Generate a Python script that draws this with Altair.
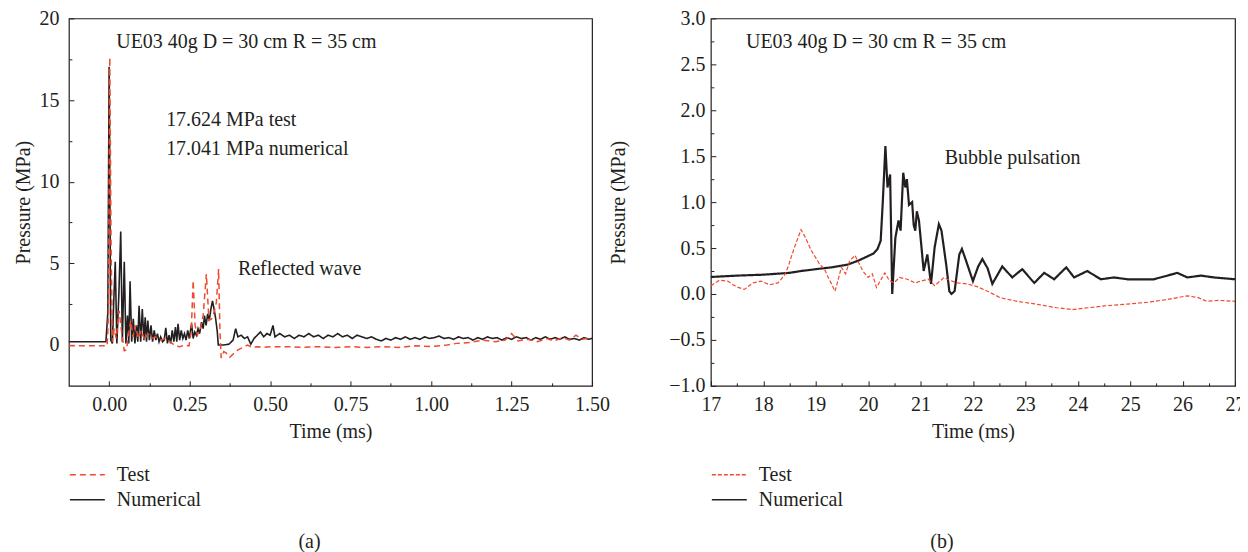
import altair as alt
import pandas as pd

FONT = "Liberation Serif"
INK = "#231F20"
RED = "#F04A2F"

series = ["Test", "Numerical"]
series_colors = [RED, INK]

# ---------------- panel (a): 0 - 1.5 ms ----------------
a_numerical = [
    (-0.125, 0.20), (-0.010, 0.20), (-0.004, 2.0), (0.000, 17.04), (0.005, 0.3),
    (0.010, 0.1), (0.014, 2.5), (0.019, 5.1), (0.024, 0.1), (0.030, 3.0),
    (0.036, 6.95), (0.041, 0.2), (0.047, 5.1), (0.052, 0.1), (0.057, 1.8),
    (0.061, 0.1), (0.065, 3.9), (0.070, 0.2), (0.075, 1.6), (0.080, 0.1),
    (0.085, 1.2), (0.089, 0.2), (0.093, 2.4), (0.098, 0.2), (0.103, 2.2),
    (0.108, 0.3), (0.112, 1.7), (0.116, 0.2), (0.120, 1.5), (0.125, 0.3),
    (0.130, 1.2), (0.135, 0.2), (0.140, 0.9), (0.145, 0.3), (0.150, 0.7),
    (0.155, 0.2), (0.160, 0.5), (0.166, 0.2), (0.171, 0.3), (0.176, 1.05),
    (0.181, 0.1), (0.186, 0.6), (0.191, 0.1), (0.196, 0.9), (0.201, 0.2),
    (0.206, 1.1), (0.210, 0.2), (0.214, 1.3), (0.219, 0.3), (0.224, 0.9),
    (0.229, 0.4), (0.234, 0.7), (0.239, 0.3), (0.244, 0.9), (0.249, 0.4),
    (0.256, 1.3), (0.261, 0.4), (0.266, 0.8), (0.271, 0.6), (0.276, 1.0),
    (0.281, 0.7), (0.287, 1.4), (0.292, 1.0), (0.296, 1.8), (0.301, 1.2),
    (0.306, 1.9), (0.311, 1.5), (0.316, 2.2), (0.321, 2.7), (0.326, 2.2),
    (0.331, 1.6), (0.336, 0.8), (0.339, 0.0), (0.355, 0.0), (0.372, 0.05),
    (0.385, 0.3), (0.393, 1.0), (0.400, 0.5), (0.410, 0.6), (0.420, 0.4),
    (0.430, 0.5), (0.440, 0.05), (0.450, 0.4), (0.460, 0.6), (0.470, 0.8),
    (0.480, 0.5), (0.490, 0.7), (0.500, 0.6), (0.509, 1.2), (0.515, 0.5),
    (0.530, 0.7), (0.545, 0.5), (0.560, 0.6), (0.575, 0.4), (0.590, 0.6),
    (0.605, 0.5), (0.620, 0.7), (0.635, 0.5), (0.650, 0.6), (0.665, 0.4),
    (0.680, 0.6), (0.695, 0.5), (0.710, 0.7), (0.725, 0.5), (0.740, 0.6),
    (0.755, 0.4), (0.770, 0.6), (0.785, 0.5), (0.800, 0.4), (0.815, 0.5),
    (0.830, 0.35), (0.845, 0.25), (0.860, 0.4), (0.875, 0.3), (0.890, 0.45),
    (0.905, 0.35), (0.920, 0.5), (0.935, 0.35), (0.950, 0.45), (0.965, 0.35),
    (0.980, 0.5), (0.995, 0.4), (1.010, 0.45), (1.025, 0.55), (1.040, 0.4),
    (1.055, 0.45), (1.070, 0.35), (1.085, 0.5), (1.100, 0.4), (1.115, 0.45),
    (1.130, 0.3), (1.145, 0.45), (1.160, 0.35), (1.175, 0.5), (1.190, 0.4),
    (1.205, 0.45), (1.220, 0.3), (1.235, 0.45), (1.250, 0.35), (1.265, 0.5),
    (1.280, 0.4), (1.295, 0.45), (1.310, 0.3), (1.325, 0.45), (1.340, 0.35),
    (1.355, 0.5), (1.370, 0.35), (1.385, 0.45), (1.400, 0.35), (1.415, 0.5),
    (1.430, 0.35), (1.445, 0.4), (1.460, 0.3), (1.475, 0.45), (1.490, 0.35),
    (1.500, 0.4),
]
a_test = [
    (-0.125, -0.05), (-0.006, -0.05), (-0.002, 2.0), (0.002, 17.62), (0.006, 6.0),
    (0.010, 0.2), (0.016, 1.0), (0.022, 0.4), (0.031, 2.1), (0.040, 0.6),
    (0.047, -0.35), (0.054, -0.3), (0.060, 0.6), (0.067, 1.5), (0.074, 0.5),
    (0.082, 1.2), (0.090, 0.4), (0.100, 0.9), (0.110, 0.3), (0.120, 0.7),
    (0.132, 0.4), (0.145, 0.5), (0.160, 0.3), (0.175, 0.4), (0.190, 0.2),
    (0.205, -0.05), (0.220, -0.1), (0.235, 0.0), (0.248, -0.05), (0.255, 0.8),
    (0.261, 3.95), (0.267, 1.2), (0.274, 0.6), (0.283, 1.0), (0.292, 1.8),
    (0.302, 4.35), (0.310, 1.5), (0.318, 1.6), (0.326, 2.0), (0.333, 2.6),
    (0.340, 4.65), (0.344, 1.0), (0.348, -0.8), (0.356, -0.4), (0.364, -0.5),
    (0.375, -0.75), (0.388, -0.5), (0.400, -0.3), (0.415, -0.15), (0.430, 0.0),
    (0.445, -0.15), (0.460, -0.1), (0.480, -0.15), (0.500, -0.1), (0.550, -0.1),
    (0.600, -0.15), (0.650, -0.1), (0.700, -0.15), (0.750, -0.1), (0.800, -0.15),
    (0.850, -0.1), (0.900, -0.15), (0.950, -0.05), (1.000, -0.1), (1.050, 0.0),
    (1.080, 0.1), (1.120, 0.15), (1.160, 0.3), (1.200, 0.2), (1.230, 0.3),
    (1.250, 0.7), (1.270, 0.25), (1.300, 0.35), (1.330, 0.2), (1.360, 0.4),
    (1.380, 0.25), (1.410, 0.45), (1.430, 0.3), (1.450, 0.6), (1.470, 0.35),
    (1.500, 0.45),
]
a_x_major = [0.0, 0.25, 0.5, 0.75, 1.0, 1.25, 1.5]
a_x_minor = [0.125, 0.375, 0.625, 0.875, 1.125, 1.375]
a_y_major = [0, 5, 10, 15, 20]
a_y_minor = [2.5, 7.5, 12.5, 17.5]
a_notes = ["UE03 40g D = 30 cm R = 35 cm", "17.624 MPa test",
           "17.041 MPa numerical", "Reflected wave"]
a_note_t = [0.022, 0.177, 0.177, 0.40]
a_note_p = [18.55, 13.8, 12.0, 4.65]

# ---------------- panel (b): 17 - 27 ms ----------------
b_numerical = [
    (17.0, 0.185), (17.5, 0.20), (18.0, 0.21), (18.5, 0.23), (18.72, 0.25),
    (19.0, 0.27), (19.3, 0.29), (19.61, 0.32), (19.8, 0.36), (19.99, 0.41),
    (20.1, 0.44), (20.18, 0.49), (20.24, 0.58), (20.28, 1.0), (20.33, 1.61),
    (20.37, 1.16), (20.42, 1.30), (20.46, 0.0), (20.52, 0.61), (20.58, 0.8),
    (20.62, 0.69), (20.67, 1.32), (20.71, 1.16), (20.74, 1.25), (20.78, 0.97),
    (20.84, 1.0), (20.87, 0.75), (20.90, 0.69), (20.93, 0.9), (20.97, 0.8),
    (21.02, 0.5), (21.06, 0.25), (21.13, 0.43), (21.20, 0.11), (21.27, 0.51),
    (21.35, 0.76), (21.40, 0.69), (21.49, 0.32), (21.55, 0.03), (21.59, 0.0),
    (21.65, 0.03), (21.74, 0.43), (21.79, 0.49), (21.87, 0.36), (22.0, 0.14),
    (22.1, 0.3), (22.18, 0.38), (22.28, 0.28), (22.37, 0.11), (22.56, 0.30),
    (22.75, 0.18), (22.94, 0.27), (23.17, 0.12), (23.36, 0.23), (23.55, 0.16),
    (23.78, 0.29), (23.93, 0.18), (24.18, 0.25), (24.44, 0.16), (24.69, 0.18),
    (24.95, 0.16), (25.2, 0.16), (25.45, 0.16), (25.71, 0.20), (25.9, 0.23),
    (26.09, 0.18), (26.35, 0.20), (26.6, 0.18), (27.0, 0.16),
]
b_test = [
    (17.0, 0.09), (17.16, 0.15), (17.32, 0.14), (17.48, 0.08), (17.64, 0.05),
    (17.8, 0.12), (17.96, 0.14), (18.12, 0.10), (18.28, 0.12), (18.4, 0.20),
    (18.47, 0.29), (18.59, 0.50), (18.72, 0.70), (18.79, 0.63), (18.92, 0.47),
    (19.08, 0.32), (19.16, 0.28), (19.24, 0.18), (19.37, 0.03), (19.49, 0.29),
    (19.57, 0.22), (19.65, 0.36), (19.75, 0.42), (19.9, 0.25), (20.0, 0.18),
    (20.08, 0.22), (20.16, 0.07), (20.32, 0.23), (20.4, 0.15), (20.49, 0.12),
    (20.6, 0.18), (20.75, 0.16), (20.9, 0.12), (21.0, 0.14), (21.15, 0.16),
    (21.27, 0.09), (21.45, 0.18), (21.51, 0.16), (21.7, 0.12), (21.89, 0.11),
    (22.08, 0.08), (22.28, 0.03), (22.52, -0.04), (22.84, -0.08), (23.2, -0.11),
    (23.6, -0.15), (23.9, -0.17), (24.2, -0.15), (24.5, -0.13), (24.95, -0.11),
    (25.33, -0.09), (25.71, -0.06), (26.09, -0.02), (26.3, -0.04), (26.46, -0.08),
    (26.7, -0.07), (27.0, -0.08),
]
b_x_major = [17, 18, 19, 20, 21, 22, 23, 24, 25, 26, 27]
b_x_minor = [17.5, 18.5, 19.5, 20.5, 21.5, 22.5, 23.5, 24.5, 25.5, 26.5]
b_y_major = [-1.0, -0.5, 0.0, 0.5, 1.0, 1.5, 2.0, 2.5, 3.0]
b_y_minor = [-0.75, -0.25, 0.25, 0.75, 1.25, 1.75, 2.25, 2.75]
b_notes = ["UE03 40g D = 30 cm R = 35 cm", "Bubble pulsation"]
b_note_t = [17.67, 21.46]
b_note_p = [2.74, 1.48]


def frame(pairs_by_series):
    rows = []
    for name, pairs in pairs_by_series:
        for t, p in pairs:
            rows.append({"t": t, "p": p, "series": name})
    return pd.DataFrame(rows)


def major_axis(values, fmt, title, orient, lab_pad, title_pad):
    return alt.Axis(values=values, format=fmt, title=title, orient=orient,
                    offset=-5, tickSize=5, labelPadding=lab_pad, titlePadding=title_pad,
                    labelFlush=False, labelOverlap=False, domain=False, grid=False)


def minor_axis(values, orient):
    return alt.Axis(values=values, title=None, orient=orient, offset=-3, tickSize=3,
                    labels=False, domain=False, grid=False)


def legend():
    return alt.Legend(title=None, orient="none", legendX=7.5, legendY=446,
                      symbolType="M-1.75,0L1.75,0", symbolSize=400, symbolStrokeWidth=1.5,
                      labelOffset=18.5, rowPadding=4, labelFontSize=20, labelFont=FONT,
                      labelColor=INK, padding=0)


def panel(data, width, xdom, ydom, xmaj, ymaj, xmin, ymin, notes, caption, cap_dx,
          w_test, w_num, dash_test):
    xs = alt.Scale(domain=xdom, nice=False, zero=False)
    ys = alt.Scale(domain=ydom, nice=False, zero=False)
    enc = dict(
        color=alt.Color("series:N", scale=alt.Scale(domain=series, range=series_colors),
                        legend=legend()),
        strokeDash=alt.StrokeDash("series:N",
                                  scale=alt.Scale(domain=series, range=[dash_test, [1, 0]]),
                                  legend=legend()),
    )
    base = alt.Chart(data)
    num = base.transform_filter(alt.datum.series == "Numerical").mark_line(
        strokeWidth=w_num).encode(
        x=alt.X("t:Q", scale=xs, axis=xmaj), y=alt.Y("p:Q", scale=ys, axis=ymaj), **enc)
    test = base.transform_filter(alt.datum.series == "Test").mark_line(
        strokeWidth=w_test).encode(
        x=alt.X("t:Q", scale=xs, axis=None), y=alt.Y("p:Q", scale=ys, axis=None), **enc)
    ann = alt.Chart(notes).mark_text(align="left", baseline="middle", font=FONT,
                                     fontSize=20, color=INK).encode(
        x=alt.X("t:Q", scale=xs, axis=xmin), y=alt.Y("p:Q", scale=ys, axis=ymin),
        text="label:N")
    return alt.layer(num, test, ann).resolve_axis(x="independent", y="independent").properties(
        width=width, height=368,
        title=alt.TitleParams(caption, orient="bottom", anchor="middle", fontSize=20,
                              font=FONT, fontWeight="normal", color=INK, offset=22,
                              dx=cap_dx),
    )


a_data = frame([("Numerical", a_numerical), ("Test", a_test)])
b_data = frame([("Numerical", b_numerical), ("Test", b_test)])
a_ann = pd.DataFrame({"t": a_note_t, "p": a_note_p, "label": a_notes})
b_ann = pd.DataFrame({"t": b_note_t, "p": b_note_p, "label": b_notes})

left = panel(
    a_data, 524, [-0.125, 1.5], [-2.5, 20],
    major_axis(a_x_major, ".2f", "Time (ms)", "bottom", 9, 7),
    major_axis(a_y_major, "d", "Pressure (MPa)", "left", 10, 5),
    minor_axis(a_x_minor, "bottom"), minor_axis(a_y_minor, "left"),
    a_ann, "(a)", -21, 1.5, 1.6, [6, 4],
)
right = panel(
    b_data, 525, [17, 27], [-1.0, 3.0],
    major_axis(b_x_major, "d", "Time (ms)", "bottom", 9, 7),
    major_axis(b_y_major, ".1f", "Pressure (MPa)", "left", 6, 40),
    minor_axis(b_x_minor, "bottom"), minor_axis(b_y_minor, "left"),
    b_ann, "(b)", -31, 1.2, 2.2, [4, 2],
)

chart = alt.hconcat(left, right, spacing=-3).resolve_scale(
    color="independent", strokeDash="independent"
).resolve_legend(color="independent", strokeDash="independent").properties(
    padding={"left": 5, "top": -1, "right": -6, "bottom": 0}
).configure_view(stroke=INK, strokeWidth=1.2).configure_axis(
    labelFont=FONT, labelFontSize=20, labelColor=INK,
    titleFont=FONT, titleFontSize=20, titleFontWeight="normal", titleColor=INK,
    tickColor=INK, tickWidth=1,
)

chart.save("out.html", embed_options={"renderer": "svg", "actions": False})
